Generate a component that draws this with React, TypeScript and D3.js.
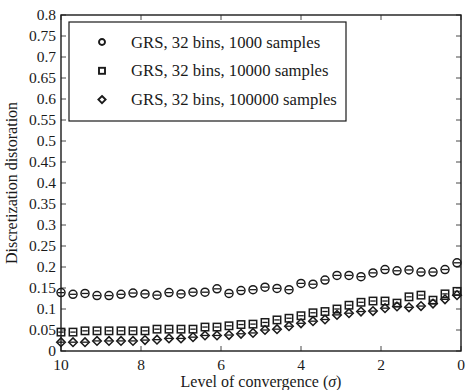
import React, { useEffect, useRef } from 'react';
import * as d3 from 'd3';

// sigma values, 10 down to 0.1 in steps of 0.3
const sigma = [10, 9.7, 9.4, 9.1, 8.8, 8.5, 8.2, 7.9, 7.6, 7.3, 7.0, 6.7, 6.4, 6.1, 5.8, 5.5, 5.2,
    4.9, 4.6, 4.3, 4.0, 3.7, 3.4, 3.1, 2.8, 2.5, 2.2, 1.9, 1.6, 1.3, 1.0, 0.7, 0.4, 0.1];

const samples1000 = [0.139, 0.135, 0.137, 0.132, 0.132, 0.135, 0.138, 0.136, 0.133, 0.139, 0.136, 0.140,
    0.140, 0.148, 0.137, 0.144, 0.146, 0.152, 0.149, 0.146, 0.161, 0.159, 0.169, 0.180, 0.180, 0.177,
    0.186, 0.194, 0.191, 0.193, 0.188, 0.188, 0.194, 0.210];

const samples10000 = [0.045, 0.045, 0.048, 0.048, 0.048, 0.048, 0.048, 0.048, 0.052, 0.052, 0.052, 0.052,
    0.057, 0.057, 0.060, 0.063, 0.064, 0.068, 0.074, 0.078, 0.084, 0.091, 0.094, 0.100, 0.109, 0.116,
    0.119, 0.119, 0.114, 0.129, 0.133, 0.121, 0.136, 0.142];

const samples100000 = [0.021, 0.021, 0.021, 0.024, 0.024, 0.024, 0.024, 0.026, 0.027, 0.030, 0.030, 0.033,
    0.037, 0.037, 0.038, 0.041, 0.043, 0.050, 0.052, 0.059, 0.066, 0.071, 0.075, 0.086, 0.090, 0.094,
    0.095, 0.102, 0.106, 0.104, 0.107, 0.113, 0.123, 0.133];

const legendLabels = ['GRS, 32 bins, 1000 samples', 'GRS, 32 bins, 10000 samples', 'GRS, 32 bins, 100000 samples'];
const xTicks = [10, 8, 6, 4, 2, 0];
const yTicks = d3.range(0, 17).map(i => i * 0.05);

const App = () => {
    const ref = useRef<SVGSVGElement>(null);

    useEffect(() => {
        const margin = { top: 15, right: 5, bottom: 39, left: 61 },
            width = 466 - margin.left - margin.right,
            height = 390 - margin.top - margin.bottom;
        const font = '"Liberation Serif", "Times New Roman", serif';
        const ink = '#1a1a1a';

        const root = d3.select(ref.current);
        root.selectAll('*').remove();
        const svg = root.append('g').attr('transform', `translate(${margin.left},${margin.top})`);

        const x = d3.scaleLinear().domain([10, 0]).range([0, width]);
        const y = d3.scaleLinear().domain([0, 0.8]).range([height, 0]);

        // ticks inward on all four sides
        const tl = 5;
        xTicks.forEach(t => {
            svg.append('line').attr('x1', x(t)).attr('x2', x(t)).attr('y1', height).attr('y2', height - tl)
                .attr('stroke', ink).attr('stroke-width', 0.8);
            svg.append('line').attr('x1', x(t)).attr('x2', x(t)).attr('y1', 0).attr('y2', tl)
                .attr('stroke', ink).attr('stroke-width', 0.8);
            svg.append('text').attr('x', x(t)).attr('y', height + 19)
                .attr('text-anchor', 'middle').attr('font-family', font).attr('font-size', 15.5).attr('fill', ink)
                .text(String(t));
        });
        yTicks.forEach(t => {
            svg.append('line').attr('x1', 0).attr('x2', tl).attr('y1', y(t)).attr('y2', y(t))
                .attr('stroke', ink).attr('stroke-width', 0.8);
            svg.append('line').attr('x1', width).attr('x2', width - tl).attr('y1', y(t)).attr('y2', y(t))
                .attr('stroke', ink).attr('stroke-width', 0.8);
            svg.append('text').attr('x', -5).attr('y', y(t)).attr('dy', '0.33em')
                .attr('text-anchor', 'end').attr('font-family', font).attr('font-size', 15.5).attr('fill', ink)
                .text(d3.format('')(+t.toFixed(2)));
        });

        svg.append('rect').attr('x', 0).attr('y', 0).attr('width', width).attr('height', height)
            .attr('fill', 'none').attr('stroke', ink).attr('stroke-width', 1.4);

        // markers
        const mk = {
            circle: (g, s) => g.append('circle').attr('r', s),
            square: (g, s) => g.append('rect').attr('x', -s).attr('y', -s).attr('width', 2 * s).attr('height', 2 * s),
            diamond: (g, s) => g.append('path').attr('d', `M0,${-s}L${s},0L0,${s}L${-s},0Z`),
        };
        const series = [
            { data: samples1000, shape: 'circle', size: 4 },
            { data: samples10000, shape: 'square', size: 3.7 },
            { data: samples100000, shape: 'diamond', size: 4.3 },
        ];

        series.forEach(s => {
            s.data.forEach((v, i) => {
                const g = svg.append('g').attr('transform', `translate(${x(sigma[i])},${y(v)})`);
                mk[s.shape](g, s.size).attr('fill', 'none').attr('stroke', ink).attr('stroke-width', 1.5);
                g.append('line').attr('x1', -s.size + 1).attr('x2', s.size - 1).attr('y1', 0).attr('y2', 0)
                    .attr('stroke', ink).attr('stroke-width', 1.3);
            });
        });

        // legend
        const lg = svg.append('g').attr('transform', `translate(${69 - margin.left},${22 - margin.top})`);
        lg.append('rect').attr('width', 277).attr('height', 99)
            .attr('fill', 'white').attr('stroke', ink).attr('stroke-width', 1.2);
        series.forEach((s, i) => {
            const cy = 20 + i * 28.8;
            const g = lg.append('g').attr('transform', `translate(33,${cy})`);
            mk[s.shape](g, s.shape === 'diamond' ? 3.6 : 3).attr('fill', 'none').attr('stroke', ink).attr('stroke-width', 1.9);
            lg.append('text').attr('x', 62).attr('y', cy).attr('dy', '0.33em')
                .attr('font-family', font).attr('font-size', 16.7).attr('fill', ink)
                .text(legendLabels[i]);
        });

        // axis titles
        svg.append('text').attr('x', width / 2).attr('y', height + 36)
            .attr('text-anchor', 'middle').attr('font-family', font).attr('font-size', 16).attr('fill', ink)
            .html('Level of convergence (<tspan font-style="italic">σ</tspan>)');
        svg.append('text').attr('transform', `translate(${-44},${height / 2}) rotate(-90)`)
            .attr('text-anchor', 'middle').attr('font-family', font).attr('font-size', 16).attr('fill', ink)
            .text('Discretization distoration');
    }, []);

    return <svg ref={ref} width={466} height={390} style={{ position: 'absolute', left: 0, top: 0 }} />;
};

export default App;
